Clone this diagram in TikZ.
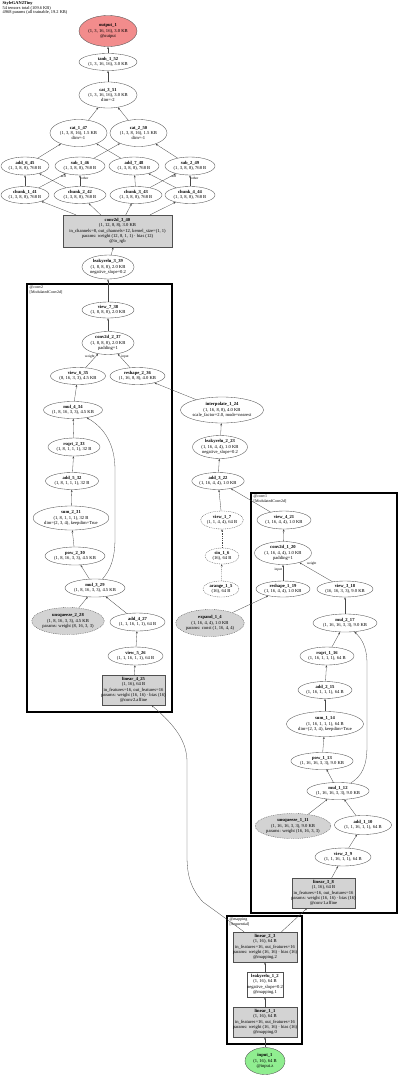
\documentclass[tikz,border=0pt]{standalone}
\usepackage{fontspec}
\setmainfont{Liberation Serif}
\usetikzlibrary{shapes.geometric,arrows.meta}
\definecolor{outred}{RGB}{242,140,140}
\definecolor{ingreen}{RGB}{144,238,144}
\definecolor{pgray}{RGB}{211,211,211}
\definecolor{bord}{RGB}{80,80,80}
\definecolor{edgec}{RGB}{70,70,70}
\newcommand\nf{\fontsize{4.6}{5.4}\selectfont}
\newcommand\ov[1]{\makebox[0pt]{#1}}
\newcommand\nm[1]{\textbf{#1}}
\tikzset{
  base/.style={draw=bord, line width=0.35pt, inner sep=0pt, align=center, font=\nf},
  el/.style 2 args={base, ellipse, minimum width=#1pt, minimum height=#2pt},
  eld/.style 2 args={el={#1}{#2}, dash pattern=on 0.9pt off 0.9pt},
  elp/.style 2 args={el={#1}{#2}, dash pattern=on 0.9pt off 0.9pt, fill=pgray},
  bx/.style 2 args={base, rectangle, minimum width=#1pt, minimum height=#2pt},
  bxp/.style 2 args={bx={#1}{#2}, fill=pgray},
  e/.style={draw=edgec, line width=0.3pt, -{Stealth[length=2.4pt,width=1.8pt]}},
  ed/.style={e, dash pattern=on 0.9pt off 0.9pt},
  lbl/.style={font=\fontsize{3.5}{4}\selectfont, inner sep=0.4pt, text=black},
  cluster/.style={draw=black, line width=1.1pt, rectangle, inner sep=0pt},
  clab/.style={font=\fontsize{4}{4.4}\selectfont, align=left, anchor=north west, inner sep=0pt},
}
\begin{document}
\begin{tikzpicture}[x=1pt, y=-1pt]
\useasboundingbox (0,0) rectangle (400,1077);
% title
\node[clab, font=\fontsize{4.4}{4.5}\selectfont] (title) at (2.5,1.5) {\textbf{StyleGAN2Tiny}\\54 tensors total (109.6 KB)\\4968 params (all trainable, 19.2 KB)};
% clusters
\node[cluster, minimum width=145pt, minimum height=428pt] (conv2) at (99.5,498) {};
\node[clab] (conv2lab) at (29.5,286) {@conv2\\{}[ModulatedConv2d]};
\node[cluster, minimum width=146pt, minimum height=420pt] (conv1) at (324,703) {};
\node[clab] (conv1lab) at (253.5,495) {@conv1\\{}[ModulatedConv2d]};
\node[cluster, minimum width=75pt, minimum height=128pt] (mapping) at (264.5,980) {};
\node[clab] (mappinglab) at (229.5,918) {@mapping\\{}[Sequential]};

% top part
\node[el={58}{31}, fill=outred] (output_1) at (108,31) {\nm{output\_1}\\(1, 3, 16, 16), 3.0 KB\\@output};
\node[el={58}{17}] (tanh_1_52) at (108,62) {\nm{tanh\_1\_52}\\(1, 3, 16, 16), 3.0 KB};
\node[el={58}{26}] (cat_3_51) at (108,95) {\nm{cat\_3\_51}\\(1, 3, 16, 16), 3.0 KB\\dim=-2};
\node[el={57}{27}] (cat_1_47) at (78.5,133) {\nm{cat\_1\_47}\\(1, 3, 8, 16), 1.5 KB\\dim=-1};
\node[el={57}{27}] (cat_2_50) at (138.5,133) {\nm{cat\_2\_50}\\(1, 3, 8, 16), 1.5 KB\\dim=-1};
\node[el={48}{18}] (add_6_45) at (25,166) {\nm{add\_6\_45}\\(1, 3, 8, 8), 768 B};
\node[el={50}{18}] (sub_1_46) at (80,166) {\nm{sub\_1\_46}\\(1, 3, 8, 8), 768 B};
\node[el={50}{18}] (add_7_48) at (134,166) {\nm{add\_7\_48}\\(1, 3, 8, 8), 768 B};
\node[el={50}{18}] (sub_2_49) at (190,166) {\nm{sub\_2\_49}\\(1, 3, 8, 8), 768 B};
\node[el={48}{17}] (chunk_1_41) at (25,195) {\nm{chunk\_1\_41}\\(1, 3, 8, 8), 768 B};
\node[el={52}{17}] (chunk_2_42) at (80,195) {\nm{chunk\_2\_42}\\(1, 3, 8, 8), 768 B};
\node[el={52}{17}] (chunk_3_43) at (136,195) {\nm{chunk\_3\_43}\\(1, 3, 8, 8), 768 B};
\node[el={50}{17}] (chunk_4_44) at (190,195) {\nm{chunk\_4\_44}\\(1, 3, 8, 8), 768 B};
\node[bxp={109}{32}] (conv2d_3_40) at (117.5,231) {\ov{\nm{conv2d\_3\_40}}\\\ov{(1, 12, 8, 8), 3.0 KB}\\\ov{in\_channels=8, out\_channels=12, kernel\_size=(1, 1)}\\\ov{params: weight (12, 8, 1, 1) · bias (12)}\\\ov{@to\_rgb}};
\node[el={52}{24}] (leakyrelu_3_39) at (108,267) {\nm{leakyrelu\_3\_39}\\(1, 8, 8, 8), 2.0 KB\\negative\_slope=0.2};

% conv2
\node[el={52}{16}] (view_7_38) at (108,310) {\nm{view\_7\_38}\\(1, 8, 8, 8), 2.0 KB};
\node[el={52}{23}] (conv2d_2_37) at (108,343) {\nm{conv2d\_2\_37}\\(1, 8, 8, 8), 2.0 KB\\padding=1};
\node[el={55}{17}] (view_6_35) at (78,376) {\nm{view\_6\_35}\\(8, 16, 3, 3), 4.5 KB};
\node[el={55}{17}] (reshape_2_36) at (137.5,376) {\nm{reshape\_2\_36}\\(1, 16, 8, 8), 4.0 KB};
\node[el={53}{17}] (mul_4_34) at (73,410) {\nm{mul\_4\_34}\\(1, 8, 16, 3, 3), 4.5 KB};
\node[el={52}{18}] (rsqrt_2_33) at (74,447) {\nm{rsqrt\_2\_33}\\(1, 8, 1, 1, 1), 32 B};
\node[el={53}{17}] (add_5_32) at (72,481) {\nm{add\_5\_32}\\(1, 8, 1, 1, 1), 32 B};
\node[el={75}{24}] (sum_2_31) at (71,518) {\nm{sum\_2\_31}\\(1, 8, 1, 1, 1), 32 B\\dim=(2, 3, 4), keepdim=True};
\node[el={60}{18}] (pow_2_30) at (75,556) {\nm{pow\_2\_30}\\(1, 8, 16, 3, 3), 4.5 KB};
\node[el={60}{18}] (mul_3_29) at (95,588) {\nm{mul\_3\_29}\\(1, 8, 16, 3, 3), 4.5 KB};
\node[elp={70}{27}] (unsqueeze_2_28) at (68,621) {\nm{unsqueeze\_2\_28}\\(1, 8, 16, 3, 3), 4.5 KB\\params: weight (8, 16, 3, 3)};
\node[el={55}{18}] (add_4_27) at (137.5,622) {\nm{add\_4\_27}\\(1, 1, 16, 1, 1), 64 B};
\node[el={55}{18}] (view_5_26) at (135.5,656) {\nm{view\_5\_26}\\(1, 1, 16, 1, 1), 64 B};
\node[bxp={63}{30}] (linear_4_25) at (133.5,690) {\ov{\nm{linear\_4\_25}}\\\ov{(1, 16), 64 B}\\\ov{in\_features=16, out\_features=16}\\\ov{params: weight (16, 16) · bias (16)}\\\ov{@conv2.affine}};

% middle column
\node[el={75}{26}] (interpolate_1_24) at (222,410) {\nm{interpolate\_1\_24}\\(1, 16, 8, 8), 4.0 KB\\scale\_factor=2.0, mode=nearest};
\node[el={55}{23}] (leakyrelu_2_23) at (220,447) {\nm{leakyrelu\_2\_23}\\(1, 16, 4, 4), 1.0 KB\\negative\_slope=0.2};
\node[el={52}{17}] (add_3_22) at (218,481) {\nm{add\_3\_22}\\(1, 16, 4, 4), 1.0 KB};
\node[eld={42}{18}] (view_1_7) at (222,520) {\nm{view\_1\_7}\\(1, 1, 4, 4), 64 B};
\node[eld={34}{16}] (sin_1_6) at (222,556) {\nm{sin\_1\_6}\\(16), 64 B};
\node[eld={36}{16}] (arange_1_5) at (221,589) {\nm{arange\_1\_5}\\(16), 64 B};
\node[elp={66}{27}] (expand_1_4) at (210,623) {\nm{expand\_1\_4}\\(1, 16, 4, 4), 1.0 KB\\params: const (1, 16, 4, 4)};

% conv1
\node[el={54}{18}] (view_4_21) at (284,520) {\nm{view\_4\_21}\\(1, 16, 4, 4), 1.0 KB};
\node[el={57}{23}] (conv2d_1_20) at (283,553) {\nm{conv2d\_1\_20}\\(1, 16, 4, 4), 1.0 KB\\padding=1};
\node[el={54}{16}] (reshape_1_19) at (283,589) {\nm{reshape\_1\_19}\\(1, 16, 4, 4), 1.0 KB};
\node[el={56}{16}] (view_3_18) at (345,589) {\nm{view\_3\_18}\\(16, 16, 3, 3), 9.0 KB};
\node[el={64}{18}] (mul_2_17) at (345,623) {\nm{mul\_2\_17}\\(1, 16, 16, 3, 3), 9.0 KB};
\node[el={54}{18}] (rsqrt_1_16) at (327,656) {\nm{rsqrt\_1\_16}\\(1, 16, 1, 1, 1), 64 B};
\node[el={54}{17}] (add_2_15) at (325,690) {\nm{add\_2\_15}\\(1, 16, 1, 1, 1), 64 B};
\node[el={77}{25}] (sum_1_14) at (325,724) {\nm{sum\_1\_14}\\(1, 16, 1, 1, 1), 64 B\\dim=(2, 3, 4), keepdim=True};
\node[el={56}{17}] (pow_1_13) at (322,761) {\nm{pow\_1\_13}\\(1, 16, 16, 3, 3), 9.0 KB};
\node[el={56}{17}] (mul_1_12) at (338,791) {\nm{mul\_1\_12}\\(1, 16, 16, 3, 3), 9.0 KB};
\node[elp={74}{25}] (unsqueeze_1_11) at (293,826) {\nm{unsqueeze\_1\_11}\\(1, 16, 16, 3, 3), 9.0 KB\\params: weight (16, 16, 3, 3)};
\node[el={57}{19}] (add_1_10) at (363,825) {\nm{add\_1\_10}\\(1, 1, 16, 1, 1), 64 B};
\node[el={56}{18}] (view_2_9) at (343,857) {\nm{view\_2\_9}\\(1, 1, 16, 1, 1), 64 B};
\node[bxp={63}{30}] (linear_3_8) at (323.5,893) {\ov{\nm{linear\_3\_8}}\\\ov{(1, 16), 64 B}\\\ov{in\_features=16, out\_features=16}\\\ov{params: weight (16, 16) · bias (16)}\\\ov{@conv1.affine}};

% mapping
\node[bxp={64}{30}] (linear_2_3) at (265,947) {\ov{\nm{linear\_2\_3}}\\\ov{(1, 16), 64 B}\\\ov{in\_features=16, out\_features=16}\\\ov{params: weight (16, 16) · bias (16)}\\\ov{@mapping.2}};
\node[bx={36}{25}] (leakyrelu_1_2) at (265,984.5) {\ov{\nm{leakyrelu\_1\_2}}\\\ov{(1, 16), 64 B}\\\ov{negative\_slope=0.2}\\\ov{@mapping.1}};
\node[bxp={64}{30}] (linear_1_1) at (265,1022) {\ov{\nm{linear\_1\_1}}\\\ov{(1, 16), 64 B}\\\ov{in\_features=16, out\_features=16}\\\ov{params: weight (16, 16) · bias (16)}\\\ov{@mapping.0}};
\node[el={40}{27}, fill=ingreen] (input_1) at (265,1061) {\nm{input\_1}\\(1, 16), 64 B\\@input.z};

% edges: mapping
\draw[e] (input_1) -- (linear_1_1);
\draw[e] (linear_1_1) -- (leakyrelu_1_2);
\draw[e] (leakyrelu_1_2) -- (linear_2_3);
\draw[e] (linear_2_3) -- (linear_3_8);
\draw[e] (linear_2_3) -- (203,902) .. controls (191,889) and (187,876) .. (187,856) -- (187,762) .. controls (187,742) and (176,726) .. (linear_4_25);
% conv1
\draw[e] (linear_3_8) -- (view_2_9);
\draw[e] (view_2_9) -- (add_1_10);
\draw[e] (add_1_10) -- (mul_1_12);
\draw[e] (unsqueeze_1_11) -- (mul_1_12);
\draw[e] (mul_1_12) -- (pow_1_13);
\draw[e] (pow_1_13) -- (sum_1_14);
\draw[e] (sum_1_14) -- (add_2_15);
\draw[e] (add_2_15) -- (rsqrt_1_16);
\draw[e] (rsqrt_1_16) -- (mul_2_17);
\draw[e] (mul_1_12) .. controls (362,776) and (367,766) .. (367,746) -- (367,664) .. controls (367,646) and (361,638) .. (mul_2_17);
\draw[e] (mul_2_17) -- (view_3_18);
\draw[e] (view_3_18) -- node[lbl, pos=0.8, above right=0.2pt] {weight} (conv2d_1_20);
\draw[e] (reshape_1_19) -- node[lbl, pos=0.7, left=0.6pt] {input} (conv2d_1_20);
\draw[e] (expand_1_4) -- (reshape_1_19);
\draw[e] (conv2d_1_20) -- (view_4_21);
\draw[e] (view_4_21) -- (add_3_22);
% constant branch
\draw[ed] (arange_1_5) -- (sin_1_6);
\draw[ed] (sin_1_6) -- (view_1_7);
\draw[e] (view_1_7) -- (add_3_22);
\draw[e] (add_3_22) -- (leakyrelu_2_23);
\draw[e] (leakyrelu_2_23) -- (interpolate_1_24);
\draw[e] (interpolate_1_24) -- (reshape_2_36);
% conv2
\draw[e] (linear_4_25) -- (view_5_26);
\draw[e] (view_5_26) -- (add_4_27);
\draw[e] (add_4_27) -- (mul_3_29);
\draw[e] (unsqueeze_2_28) -- (mul_3_29);
\draw[e] (mul_3_29) -- (pow_2_30);
\draw[e] (pow_2_30) -- (sum_2_31);
\draw[e] (sum_2_31) -- (add_5_32);
\draw[e] (add_5_32) -- (rsqrt_2_33);
\draw[e] (rsqrt_2_33) -- (mul_4_34);
\draw[e] (mul_3_29) .. controls (110,570) and (115,560) .. (115,538) -- (115,470) .. controls (115,445) and (105,428) .. (mul_4_34);
\draw[e] (mul_4_34) -- (view_6_35);
\draw[e] (view_6_35) -- node[lbl, pos=0.8, left=0.6pt] {weight} (conv2d_2_37);
\draw[e] (reshape_2_36) -- node[lbl, pos=0.8, right=0.6pt] {input} (conv2d_2_37);
\draw[e] (conv2d_2_37) -- (view_7_38);
\draw[e] (view_7_38) -- (leakyrelu_3_39);
\draw[e] (leakyrelu_3_39) -- (conv2d_3_40);
% top
\draw[e] (conv2d_3_40) -- (chunk_1_41);
\draw[e] (conv2d_3_40) -- (chunk_2_42);
\draw[e] (conv2d_3_40) -- (chunk_3_43);
\draw[e] (conv2d_3_40) -- (chunk_4_44);
\draw[e] (chunk_1_41) -- (add_6_45);
\draw[e] (chunk_2_42) -- (add_6_45);
\draw[e] (chunk_1_41) -- node[lbl, pos=0.78, right=0.6pt] {self} (sub_1_46);
\draw[e] (chunk_2_42) -- node[lbl, pos=0.7, right=0.6pt] {other} (sub_1_46);
\draw[e] (chunk_3_43) -- (add_7_48);
\draw[e] (chunk_4_44) -- (add_7_48);
\draw[e] (chunk_3_43) -- node[lbl, pos=0.78, right=0.6pt] {self} (sub_2_49);
\draw[e] (chunk_4_44) -- node[lbl, pos=0.7, right=0.6pt] {other} (sub_2_49);
\draw[e] (add_6_45) -- (cat_1_47);
\draw[e] (add_7_48) -- (cat_1_47);
\draw[e] (sub_1_46) -- (cat_2_50);
\draw[e] (sub_2_49) -- (cat_2_50);
\draw[e] (cat_1_47) -- (cat_3_51);
\draw[e] (cat_2_50) -- (cat_3_51);
\draw[e] (cat_3_51) -- (tanh_1_52);
\draw[e] (tanh_1_52) -- (output_1);
\end{tikzpicture}
\end{document}
